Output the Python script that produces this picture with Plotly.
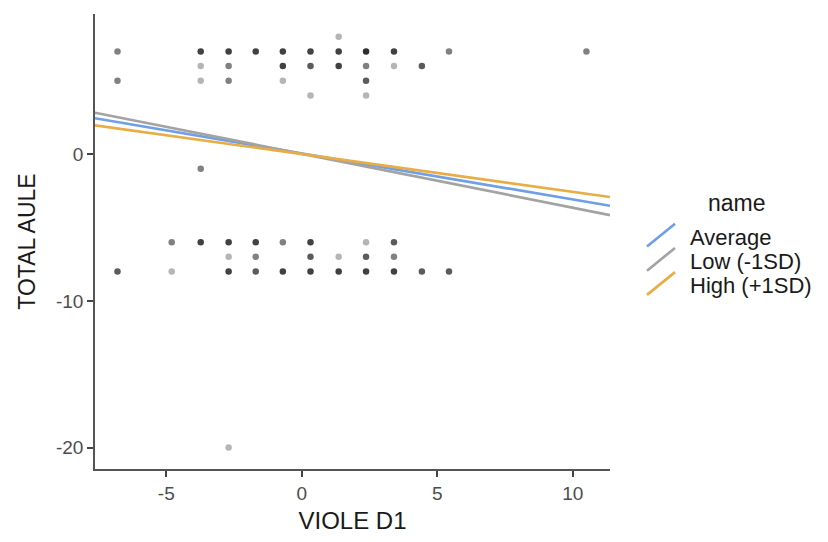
import plotly.graph_objects as go

# ---------------- data ----------------
# scatter points: x (VIOLE D1), y (TOTAL AULE), n = number of overlapping observations
pt_x = [1.36,
        -6.8, -3.73, -2.7, -1.7, -0.7, 0.32, 1.36, 2.37, 3.4, 5.43, 10.5,
        -3.73, -2.7, -0.7, 0.32, 1.36, 2.37, 3.4, 4.43,
        -6.8, -3.73, -2.7, -0.7, 2.37,
        0.32, 2.37,
        -3.73,
        -4.8, -3.73, -2.7, -1.7, -0.7, 0.32, 2.37, 3.4,
        -2.7, -1.7, 0.32, 1.36, 2.37, 3.4,
        -6.8, -4.8, -2.7, -1.7, -0.7, 0.32, 1.36, 2.37, 3.4, 4.43, 5.43,
        -2.7]
pt_y = [8,
        7, 7, 7, 7, 7, 7, 7, 7, 7, 7, 7,
        6, 6, 6, 6, 6, 6, 6, 6,
        5, 5, 5, 5, 5,
        4, 4,
        -1,
        -6, -6, -6, -6, -6, -6, -6, -6,
        -7, -7, -7, -7, -7, -7,
        -8, -8, -8, -8, -8, -8, -8, -8, -8, -8, -8,
        -20]
pt_n = [1,
        2, 4, 4, 4, 4, 4, 4, 5, 4, 2, 2,
        1, 2, 4, 3, 4, 2, 1, 3,
        2, 1, 2, 1, 3,
        1, 1,
        2,
        2, 4, 4, 4, 2, 4, 1, 3,
        1, 2, 3, 1, 3, 2,
        3, 1, 4, 3, 4, 4, 4, 4, 4, 3, 3,
        1]

# simple slopes (moderator levels)
line_names = ["Average", "Low (-1SD)", "High (+1SD)"]
line_intercepts = [0.05, 0.02, 0.0]
line_slopes = [-0.314, -0.367, -0.257]
line_colors = ["#6f9fe6", "#a3a3a3", "#e8ae45"]

x_range = [-7.63, 11.37]
y_range = [-21.46, 9.55]
x_ticks = [-5, 0, 5, 10]
x_ticklabels = ["-5", "0", "5", "10"]
y_ticks = [-20, -10, 0]
y_ticklabels = ["-20", "-10", "0"]

# ---------------- figure ----------------
W, H = 828, 542
ML, MR, MT, MB = 95, 218, 14, 68
FONT = "Liberation Sans, Arial, sans-serif"

alpha = 0.29
opac = [1 - (1 - alpha) ** n for n in pt_n]

fig = go.Figure()
fig.add_trace(go.Scatter(
    x=pt_x, y=pt_y, mode="markers",
    marker=dict(size=6.5, color="black", opacity=opac, line=dict(width=0)),
    showlegend=False, hoverinfo="x+y"))

for name, b0, b1, col in zip(line_names, line_intercepts, line_slopes, line_colors):
    xs = x_range
    ys = [b0 + b1 * v for v in xs]
    fig.add_trace(go.Scatter(x=xs, y=ys, mode="lines", name=name,
                             line=dict(color=col, width=2.7), showlegend=False))

# custom ggplot-like legend (diagonal keys)
pw, ph = W - ML - MR, H - MT - MB
def px(xp):
    return (xp - ML) / pw
def py(yp):
    return (H - MB - yp) / ph

key_y = [237.5, 262, 286.5]
for name, col, cy in zip(line_names, line_colors, key_y):
    fig.add_shape(type="line", xref="paper", yref="paper",
                  x0=px(647), y0=py(cy + 11.5), x1=px(675), y1=py(cy - 11.5),
                  line=dict(color=col, width=2.7))
    fig.add_annotation(xref="paper", yref="paper", x=px(688), y=py(cy + 2),
                       text=name, showarrow=False, xanchor="left", yanchor="middle",
                       font=dict(family=FONT, size=22, color="#1a1a1a"))
fig.add_annotation(xref="paper", yref="paper", x=px(737), y=py(205),
                   text="name", showarrow=False, xanchor="center", yanchor="middle",
                   font=dict(family=FONT, size=23, color="#1a1a1a"))

axis_common = dict(showgrid=False, zeroline=False, showline=True,
                   linecolor="#555555", linewidth=1.6,
                   ticks="outside", ticklen=6, tickwidth=2, tickcolor="#444444",
                   tickfont=dict(family=FONT, size=19, color="#4d4d4d"))

fig.update_layout(
    width=W, height=H,
    margin=dict(l=ML, r=MR, t=MT, b=MB),
    paper_bgcolor="white", plot_bgcolor="white",
    showlegend=False,
    xaxis=dict(range=x_range, tickvals=x_ticks, ticktext=x_ticklabels,
               title=dict(text="VIOLE D1", standoff=10,
                          font=dict(family=FONT, size=24, color="#1a1a1a")),
               **axis_common),
    yaxis=dict(range=y_range, tickvals=y_ticks, ticktext=y_ticklabels,
               title=dict(text="TOTAL AULE", standoff=14,
                          font=dict(family=FONT, size=23, color="#1a1a1a")),
               **axis_common),
)

fig.write_html("out.html")
